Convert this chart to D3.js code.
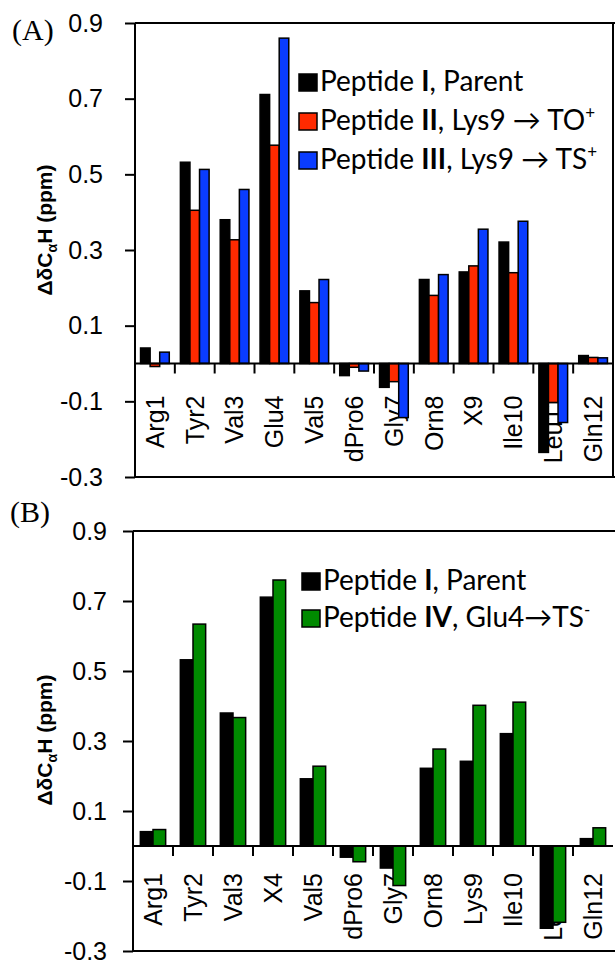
<!DOCTYPE html>
<html>
<head>
<meta charset="utf-8">
<script src="https://cdn.jsdelivr.net/npm/d3@7"></script>
<style>
    body { margin: 0; background: #fff; }
    .graph svg { display: block; }
</style>
</head>
<body>
<div class="graph"></div>
<script>
// Residue labels for the two panels
const residuesA = ["Arg1", "Tyr2", "Val3", "Glu4", "Val5", "dPro6", "Gly7", "Orn8", "X9", "Ile10", "Leu11", "Gln12"];
const residuesB = ["Arg1", "Tyr2", "Val3", "X4", "Val5", "dPro6", "Gly7", "Orn8", "Lys9", "Ile10", "Leu11", "Gln12"];

// ΔδCαH values (ppm)
const peptideI   = [0.041, 0.532, 0.380, 0.711, 0.192, -0.032, -0.063, 0.222, 0.242, 0.321, -0.235, 0.021];
const peptideII  = [-0.008, 0.405, 0.327, 0.577, 0.161, -0.010, -0.048, 0.180, 0.258, 0.240, -0.103, 0.016];
const peptideIII = [0.030, 0.513, 0.460, 0.860, 0.222, -0.020, -0.143, 0.235, 0.355, 0.376, -0.156, 0.015];
const peptideIV  = [0.047, 0.634, 0.367, 0.760, 0.228, -0.045, -0.113, 0.277, 0.402, 0.411, -0.218, 0.052];

const yTicks = [0.9, 0.7, 0.5, 0.3, 0.1, -0.1, -0.3];
const yDomain = [-0.3, 0.9];

// legend text, split so the roman numerals can be bold
const legendA = [
    ["Peptide ", "I", ", Parent", ""],
    ["Peptide ", "II", ", Lys9 \u2192 TO", "+"],
    ["Peptide ", "III", ", Lys9 \u2192 TS", "+"]
];
const legendB = [
    ["Peptide ", "I", ", Parent", ""],
    ["Peptide ", "IV", ", Glu4\u2192TS", "-"]
];

const colorsA = ["#000000", "#ff2a00", "#0a3cff"];
const colorsB = ["#000000", "#008a00"];

const sansFont = "'Liberation Sans', Arial, sans-serif";
const legendFont = "Lato, 'Open Sans', sans-serif";

const width = 615;
const height = 962;

const svg = d3.select(".graph")
    .append("svg")
        .attr("width", width)
        .attr("height", height);

function drawPanel(cfg) {
    const g = svg.append("g");

    const yScale = d3.scaleLinear()
        .domain(yDomain)
        .range([cfg.bottom, cfg.top]);

    const xScale = d3.scaleBand()
        .domain(cfg.residues)
        .range([cfg.left, cfg.right]);

    const seriesKeys = d3.range(cfg.series.length);
    const subScale = d3.scaleBand()
        .domain(seriesKeys)
        .range([0, xScale.bandwidth()])
        .paddingOuter(0.58);

    const y0 = yScale(0);

    // x labels go under the bars (bars overlap them in the original)
    g.append("g")
        .selectAll("text")
        .data(cfg.residues)
        .join("text")
            .attr("transform", d => `translate(${xScale(d) + xScale.bandwidth() / 2},${y0 + cfg.labelGap}) rotate(-90)`)
            .attr("dy", "0.35em")
            .attr("text-anchor", "end")
            .attr("font-family", sansFont)
            .attr("font-size", 25)
            .text(d => d);

    // bars
    const rows = cfg.residues.map((r, i) => ({
        residue: r,
        values: cfg.series.map(s => s[i])
    }));

    g.append("g")
        .selectAll("g")
        .data(rows)
        .join("g")
            .attr("transform", d => `translate(${xScale(d.residue)},0)`)
        .selectAll("rect")
        .data(d => d.values.map((v, k) => ({ k: k, v: v })))
        .join("rect")
            .attr("x", d => subScale(d.k))
            .attr("width", subScale.bandwidth())
            .attr("y", d => Math.min(yScale(d.v), y0))
            .attr("height", d => Math.abs(yScale(d.v) - y0))
            .attr("fill", d => cfg.colors[d.k])
            .attr("stroke", "#000")
            .attr("stroke-width", 1.5);

    // zero line with category separators
    g.append("line")
        .attr("x1", cfg.left)
        .attr("x2", cfg.right)
        .attr("y1", y0)
        .attr("y2", y0)
        .attr("stroke", "#000")
        .attr("stroke-width", 2);

    g.append("g")
        .selectAll("line")
        .data(cfg.residues.slice(1))
        .join("line")
            .attr("x1", d => xScale(d))
            .attr("x2", d => xScale(d))
            .attr("y1", y0)
            .attr("y2", y0 + 10)
            .attr("stroke", "#000")
            .attr("stroke-width", 2);

    // y axis
    const yAxisGenerator = d3.axisLeft(yScale)
        .tickValues(yTicks)
        .tickSize(10)
        .tickPadding(cfg.tickPad)
        .tickFormat(d => d.toFixed(1));

    const yAxis = g.append("g")
        .attr("transform", `translate(${cfg.left},0)`)
        .call(yAxisGenerator);
    yAxis.select(".domain").remove();
    yAxis.selectAll(".tick line").attr("stroke-width", 2);
    yAxis.selectAll(".tick text")
        .attr("font-family", sansFont)
        .attr("font-size", 25)
        .attr("fill", "#000");

    // frame
    g.append("line")
        .attr("x1", cfg.left).attr("x2", cfg.left)
        .attr("y1", cfg.top).attr("y2", cfg.bottom)
        .attr("stroke", "#000").attr("stroke-width", 2);
    g.append("line")
        .attr("x1", cfg.left).attr("x2", width)
        .attr("y1", cfg.top).attr("y2", cfg.top)
        .attr("stroke", "#000").attr("stroke-width", 2);
    g.append("line")
        .attr("x1", cfg.left).attr("x2", width)
        .attr("y1", cfg.bottom).attr("y2", cfg.bottom)
        .attr("stroke", "#000").attr("stroke-width", 2);
    if (cfg.rightBorder) {
        g.append("line")
            .attr("x1", cfg.right).attr("x2", cfg.right)
            .attr("y1", cfg.top).attr("y2", cfg.bottom)
            .attr("stroke", "#000").attr("stroke-width", 2);
    }

    // y axis title
    const title = g.append("text")
        .attr("transform", `translate(${cfg.titleX},${cfg.titleY}) rotate(-90)`)
        .attr("text-anchor", "middle")
        .attr("font-family", sansFont)
        .attr("font-weight", "bold")
        .attr("font-size", 21);
    title.append("tspan").text("\u0394\u03b4C");
    title.append("tspan").attr("font-size", 14).attr("dy", 5).text("\u03b1");
    title.append("tspan").attr("dy", -5).text("H (ppm)");

    // panel letter
    g.append("text")
        .attr("x", cfg.letterX)
        .attr("y", cfg.letterY)
        .attr("font-family", "'Liberation Serif', 'Times New Roman', serif")
        .attr("font-size", 30)
        .text(cfg.letter);

    // legend
    const legend = g.append("g")
        .selectAll("g")
        .data(cfg.legend)
        .join("g")
            .attr("transform", (d, i) => `translate(${cfg.legendX},${cfg.legendY + i * cfg.legendStep})`);

    legend.append("rect")
        .attr("x", 0)
        .attr("y", -17)
        .attr("width", 18)
        .attr("height", 17)
        .attr("fill", (d, i) => cfg.colors[i])
        .attr("stroke", "#000")
        .attr("stroke-width", 1.5);

    const legendText = legend.append("text")
        .attr("x", 21)
        .attr("y", 0)
        .attr("font-family", legendFont)
        .attr("font-size", 28);
    legendText.append("tspan").text(d => d[0]);
    legendText.append("tspan").attr("font-weight", "bold").text(d => d[1]);
    legendText.append("tspan").text(d => d[2]);
    legendText.append("tspan")
        .attr("font-size", 17)
        .attr("dy", -11)
        .text(d => d[3]);
}

drawPanel({
    residues: residuesA,
    series: [peptideI, peptideII, peptideIII],
    colors: colorsA,
    top: 23, bottom: 477, left: 135, right: 613,
    rightBorder: true,
    tickPad: 22,
    labelGap: 32,
    titleX: 52, titleY: 230,
    letter: "(A)", letterX: 12, letterY: 40,
    legend: legendA, legendX: 299, legendY: 91, legendStep: 39
});

drawPanel({
    residues: residuesB,
    series: [peptideI, peptideIV],
    colors: colorsB,
    top: 531, bottom: 951, left: 133, right: 613,
    rightBorder: false,
    tickPad: 16,
    labelGap: 27,
    titleX: 52, titleY: 740,
    letter: "(B)", letterX: 10, letterY: 522,
    legend: legendB, legendX: 302, legendY: 590, legendStep: 37
});
</script>
</body>
</html>
